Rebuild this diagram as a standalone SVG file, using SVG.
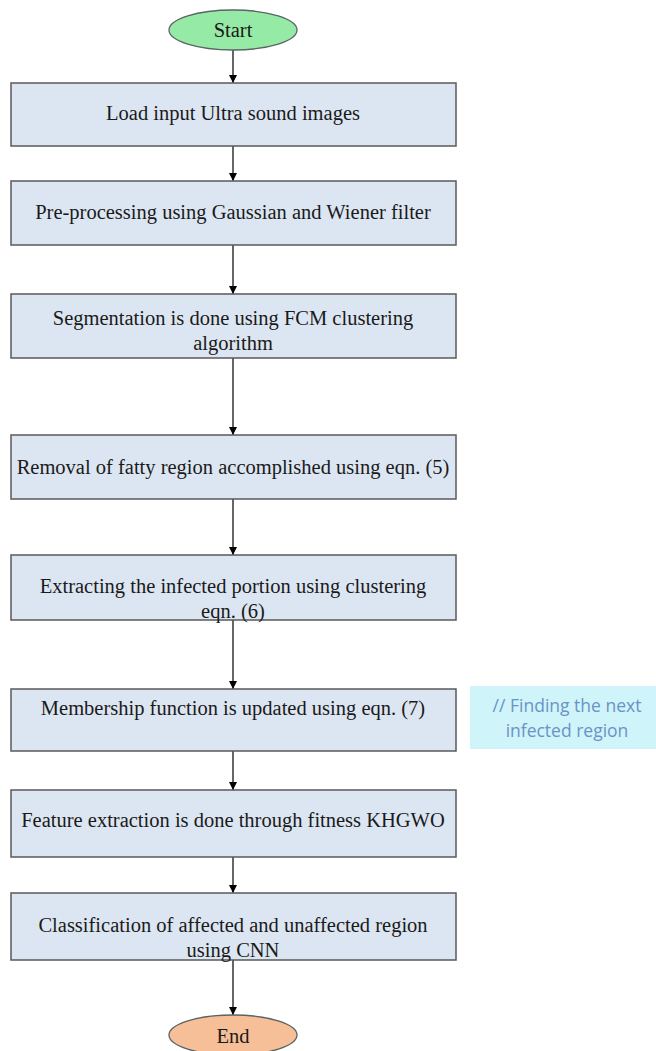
<svg xmlns="http://www.w3.org/2000/svg" width="656" height="1051" viewBox="0 0 656 1051">
<defs>
<style>
.box{fill:#dce6f2;stroke:#5a5a5a;stroke-width:1.5}
.t{font-family:"Liberation Serif","Times New Roman",serif;font-size:20.5px;fill:#1a1a1a;text-anchor:middle}
.c{font-family:"Open Sans","Liberation Sans",sans-serif;font-size:17.5px;fill:#6a93c6;text-anchor:middle}
.ln{stroke:#000;stroke-width:1.2;fill:none;marker-end:url(#ah)}
</style>
<marker id="ah" markerWidth="10" markerHeight="10" refX="8" refY="4" orient="auto" markerUnits="userSpaceOnUse">
<path d="M0,0 L8,4 L0,8 Z" fill="#000"/>
</marker>
</defs>
<rect width="656" height="1051" fill="#fff"/>
<g id="connectors">
<line class="ln" x1="233" y1="50" x2="233" y2="83"/>
<line class="ln" x1="233" y1="146" x2="233" y2="181"/>
<line class="ln" x1="233" y1="245" x2="233" y2="294"/>
<line class="ln" x1="233" y1="358" x2="233" y2="435"/>
<line class="ln" x1="233" y1="499" x2="233" y2="555"/>
<line class="ln" x1="233" y1="620" x2="233" y2="689"/>
<line class="ln" x1="233" y1="751" x2="233" y2="790"/>
<line class="ln" x1="233" y1="857" x2="233" y2="893"/>
<line class="ln" x1="233" y1="960" x2="233" y2="1015"/>
</g>
<g id="start">
<ellipse cx="233" cy="30" rx="64" ry="20" fill="#95eba6" stroke="#5a6464" stroke-width="1.3"/>
<text class="t" x="233" y="37">Start</text>
</g>
<g id="n1">
<rect class="box" x="11" y="83" width="445" height="63"/>
<text class="t" x="233" y="120">Load input Ultra sound images</text>
</g>
<g id="n2">
<rect class="box" x="11" y="181" width="445" height="64"/>
<text class="t" x="233" y="219">Pre-processing using Gaussian and Wiener filter</text>
</g>
<g id="n3">
<rect class="box" x="11" y="294" width="445" height="64"/>
<text class="t" x="233" y="325">Segmentation is done using FCM clustering</text>
<text class="t" x="233" y="350">algorithm</text>
</g>
<g id="n4">
<rect class="box" x="11" y="435" width="445" height="64"/>
<text class="t" x="233" y="474">Removal of fatty region accomplished using eqn. (5)</text>
</g>
<g id="n5">
<rect class="box" x="11" y="555" width="445" height="65"/>
<text class="t" x="233" y="593">Extracting the infected portion using  clustering</text>
<text class="t" x="233" y="618">eqn. (6)</text>
</g>
<g id="n6">
<rect class="box" x="11" y="689" width="445" height="62"/>
<text class="t" x="233" y="715">Membership function is updated using eqn. (7)</text>
</g>
<g id="comment">
<rect x="470" y="686" width="186" height="63" fill="#cff4fa"/>
<text class="c" x="567" y="712">// Finding the next</text>
<text class="c" x="567" y="737">infected region</text>
</g>
<g id="n7">
<rect class="box" x="11" y="790" width="445" height="67"/>
<text class="t" x="233" y="827">Feature extraction is done through fitness KHGWO</text>
</g>
<g id="n8">
<rect class="box" x="11" y="893" width="445" height="67"/>
<text class="t" x="233" y="932">Classification of affected and unaffected region</text>
<text class="t" x="233" y="957">using CNN</text>
</g>
<g id="end">
<ellipse cx="233" cy="1035" rx="64" ry="20" fill="#f7bf98" stroke="#5a6464" stroke-width="1.3"/>
<text class="t" x="233" y="1043">End</text>
</g>
</svg>
